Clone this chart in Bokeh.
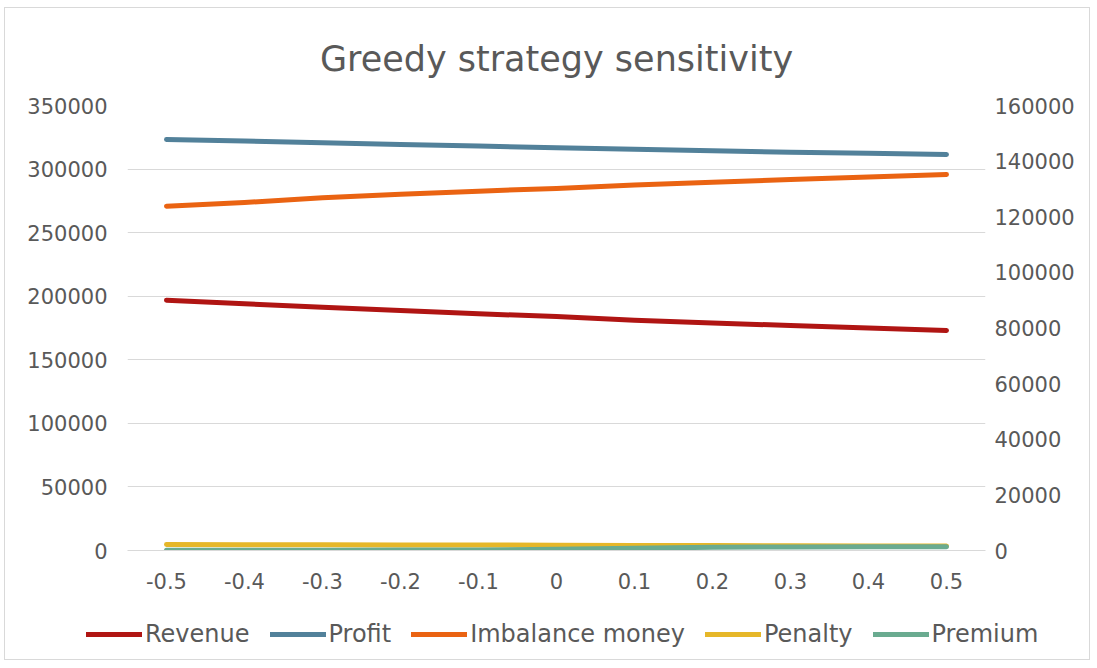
from bokeh.plotting import figure
from bokeh.layouts import column
from bokeh.models import (Range1d, LinearAxis, FixedTicker, NumeralTickFormatter,
                          Legend, LegendItem, FactorRange, ColumnDataSource)
from bokeh.embed import file_html
from bokeh.resources import INLINE

# ---- data ----
x_labels = ["-0.5", "-0.4", "-0.3", "-0.2", "-0.1", "0", "0.1", "0.2", "0.3", "0.4", "0.5"]
revenue = [196900, 194100, 191400, 188800, 186200, 184000, 181100, 178900, 177000, 175000, 173000]
profit = [323300, 322000, 320700, 319300, 318100, 316700, 315500, 314400, 313300, 312400, 311500]
imbalance_money = [123800, 125100, 126800, 128100, 129200, 130200, 131400, 132400, 133400, 134300, 135200]  # right axis
penalty = [4700, 4600, 4500, 4400, 4300, 4150, 4000, 3850, 3700, 3600, 3500]
premium = [200, 200, 250, 300, 400, 900, 1800, 2500, 2800, 2900, 2950]

series_names = ["Revenue", "Profit", "Imbalance money", "Penalty", "Premium"]
series_cols = ["revenue", "profit", "imbalance", "penalty", "premium"]
series_colors = ["#B01513", "#52819A", "#EA6312", "#E6B729", "#6AAB90"]
series_axis = ["default", "default", "right", "default", "default"]

left_ticks = [0, 50000, 100000, 150000, 200000, 250000, 300000, 350000]
right_ticks = [0, 20000, 40000, 60000, 80000, 100000, 120000, 140000, 160000]

FONT = "DejaVu Sans"
GREY = "#595959"
GRID = "#D9D9D9"
LW = 5

src = ColumnDataSource(dict(x=x_labels, revenue=revenue, profit=profit,
                            imbalance=imbalance_money, penalty=penalty, premium=premium))

# ---------------- main chart ----------------
p = figure(x_range=FactorRange(*x_labels), y_range=Range1d(0, 350000),
           frame_width=858, frame_height=445,
           min_border_left=122, min_border_right=104, min_border_top=97, min_border_bottom=50,
           output_backend="svg", toolbar_location=None,
           title="Greedy strategy sensitivity")
p.outline_line_color = None
p.background_fill_color = "white"
p.border_fill_color = "white"

p.title.align = "center"
p.title.text_font = FONT
p.title.text_font_size = "35px"
p.title.text_font_style = "normal"
p.title.text_color = GREY
p.title.standoff = 54

p.extra_y_ranges = {"right": Range1d(0, 160000)}

p.xaxis.axis_line_color = GRID
p.xaxis.major_tick_line_color = None
p.xaxis.minor_tick_line_color = None
p.xaxis.major_label_text_font = FONT
p.xaxis.major_label_text_font_size = "21px"
p.xaxis.major_label_text_color = GREY
p.xaxis.major_label_standoff = 16

p.yaxis.ticker = FixedTicker(ticks=left_ticks)
p.yaxis.formatter = NumeralTickFormatter(format="0")
p.yaxis.axis_line_color = None
p.yaxis.major_tick_line_color = None
p.yaxis.minor_tick_line_color = None
p.yaxis.major_label_text_font = FONT
p.yaxis.major_label_text_font_size = "21px"
p.yaxis.major_label_text_color = GREY
p.yaxis.major_label_standoff = 14

raxis = LinearAxis(y_range_name="right", ticker=FixedTicker(ticks=right_ticks),
                   formatter=NumeralTickFormatter(format="0"))
raxis.axis_line_color = None
raxis.major_tick_line_color = None
raxis.minor_tick_line_color = None
raxis.major_label_text_font = FONT
raxis.major_label_text_font_size = "21px"
raxis.major_label_text_color = GREY
raxis.major_label_standoff = 3
p.add_layout(raxis, "right")

p.xgrid.grid_line_color = None
p.ygrid.grid_line_color = GRID
p.ygrid.grid_line_width = 1

for col, color, yr in zip(series_cols, series_colors, series_axis):
    p.line("x", col, source=src, y_range_name=yr, color=color, line_width=LW,
           line_cap="round", line_join="round")

# ---------------- legend strip (same series, shown only in the legend) ----------------
leg = figure(x_range=FactorRange(*x_labels), y_range=Range1d(-3e6, -2e6),
             frame_width=1084, frame_height=59,
             min_border_left=0, min_border_right=0, min_border_top=0, min_border_bottom=0,
             x_axis_type=None, y_axis_type=None,
             output_backend="svg", toolbar_location=None)
leg.outline_line_color = None
leg.xgrid.grid_line_color = None
leg.ygrid.grid_line_color = None
leg.background_fill_color = "white"
leg.border_fill_color = "white"

items = []
for name, col, color in zip(series_names, series_cols, series_colors):
    r = leg.line("x", col, source=src, color=color, line_width=LW,
                 line_cap="round", line_join="round")
    items.append(LegendItem(label=name, renderers=[r]))

legend = Legend(items=items, orientation="horizontal", location=(81, 11))
legend.border_line_color = None
legend.background_fill_alpha = 0
legend.label_text_font = FONT
legend.label_text_font_size = "24px"
legend.label_text_color = GREY
legend.glyph_width = 56
legend.label_standoff = 3
legend.spacing = 20
legend.margin = 0
legend.padding = 0
leg.add_layout(legend, "center")

layout = column(p, leg, spacing=0,
                styles={"border": "1px solid #D9D9D9", "margin-left": "4px", "margin-top": "7px"})

open("out.html", "w").write(file_html(layout, INLINE))
